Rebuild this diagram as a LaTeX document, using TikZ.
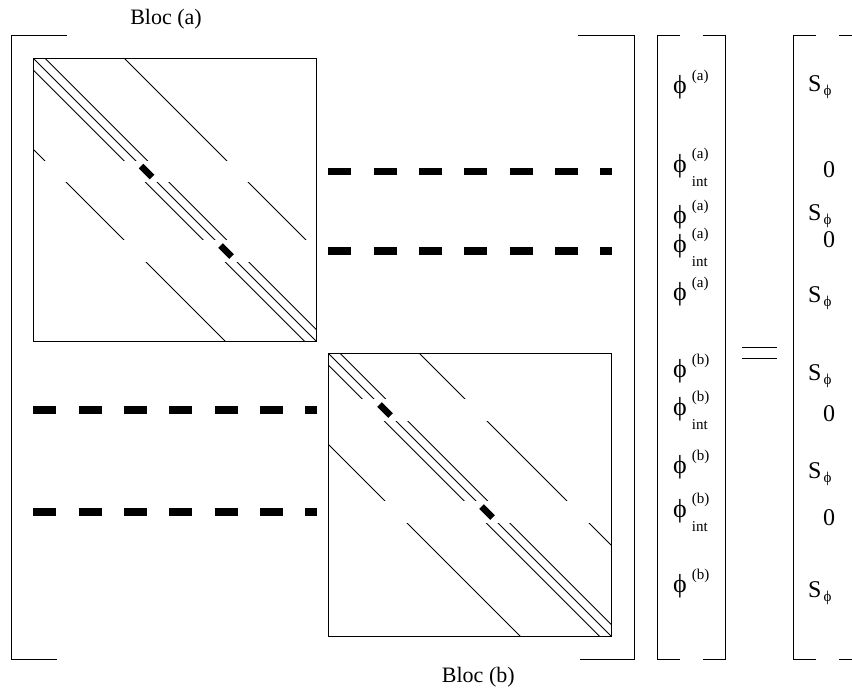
\documentclass[tikz,border=0pt]{standalone}
\usepackage{fontspec}
\setmainfont{Liberation Serif}
% script-size text used for superscripts and subscripts
\newcommand\scr{\fontsize{15}{17}\selectfont}
\newcommand\bigphi{{\fontsize{26}{28}\selectfont ϕ}}
\newcommand\phisup[1]{\bigphi\kern5pt\raisebox{13pt}{\scr(#1)}}
\newcommand\phiint[1]{\bigphi\kern5pt\rlap{\raisebox{14pt}{\scr(#1)}}\raisebox{-14pt}{\scr int}}
\newcommand\Sphi{S\kern2pt\raisebox{-4pt}{\fontsize{15}{15}\selectfont ϕ}}
% banded sparse block: two pivot rows split the bands into three row ranges
\newcommand\blockbands[2]{%
  \foreach \ra/\rb in {0/#1-11.3, #1+11.3/#2-11.3, #2+11.3/283.5} {
    \begin{scope}
      \clip (0,\ra) rectangle (283.5,\rb);
      \foreach \d in {-91,-11.7,0,11.7,91}
        \draw[band] (\d-10,-10) -- (\d+300,300);
    \end{scope}
  }
  \draw[pivot] (#1-5.5,#1-5.5) -- (#1+5.5,#1+5.5);
  \draw[pivot] (#2-5.5,#2-5.5) -- (#2+5.5,#2+5.5);
  \draw[frame] (0,0) rectangle (283.5,283.5);
}
\begin{document}
\begin{tikzpicture}[x=1pt,y=-1pt,
  frame/.style={line width=1pt},
  band/.style={line width=0.9pt},
  pivot/.style={line width=6.5pt},
  couple/.style={line width=7.3pt, dash pattern=on 23pt off 22.3pt},
  lbl/.style={anchor=base, inner sep=0pt, font=\fontsize{22}{26}\selectfont},
  num/.style={anchor=base, inner sep=0pt, font=\fontsize{24}{28}\selectfont},
  ent/.style={anchor=base west, inner sep=0pt, font=\fontsize{24}{28}\selectfont},
  ]
\useasboundingbox (0,0) rectangle (852,691);
\clip (0,0) rectangle (852,691);

% block (a) and block (b)
\begin{scope}[shift={(33.3,58.3)}]
  \blockbands{113.3}{192.7}
\end{scope}
\begin{scope}[shift={(328.3,353.3)}]
  \blockbands{56.7}{158.7}
\end{scope}

% coupling rows
\draw[couple] (328.3,171.6) -- (611.8,171.6);
\draw[couple] (328.3,251) -- (611.8,251);
\draw[couple] (33.3,410) -- (316.8,410);
\draw[couple] (33.3,512) -- (316.8,512);

% matrix brackets
\draw[frame] (66.7,35) -- (11.7,35) -- (11.7,659) -- (56.7,659);
\draw[frame] (578.3,35) -- (634.3,35) -- (634.3,659) -- (580,659);
% unknown vector brackets
\draw[frame] (680,35) -- (657.3,35) -- (657.3,659.3) -- (680,659.3);
\draw[frame] (702.7,35) -- (725.3,35) -- (725.3,659.3) -- (702.7,659.3);
% right-hand side brackets
\draw[frame] (816,35) -- (793.3,35) -- (793.3,659.3) -- (816,659.3);
\draw[frame] (839.3,35) -- (861.3,35) -- (861.3,659.3) -- (839.3,659.3);
% equals sign
\draw[frame] (742.3,347.3) -- (776.7,347.3);
\draw[frame] (742.3,358.3) -- (776.7,358.3);

% labels
\node[lbl] (bla) at (166,24) {Bloc (a)};
\node[lbl] (blb) at (478.3,682.5) {Bloc (b)};

% unknowns
\node[ent] (u1) at (673,93.6) {\phisup{a}};
\node[ent] (u2) at (673,172) {\phiint{a}};
\node[ent] (u3) at (673,223.6) {\phisup{a}};
\node[ent] (u4) at (673,252) {\phiint{a}};
\node[ent] (u5) at (673,300.3) {\phisup{a}};
\node[ent] (u6) at (673,377) {\phisup{b}};
\node[ent] (u7) at (673,415.3) {\phiint{b}};
\node[ent] (u8) at (673,473.6) {\phisup{b}};
\node[ent] (u9) at (673,517) {\phiint{b}};
\node[ent] (u10) at (673,592) {\phisup{b}};

% right-hand side
\node[ent] (r1) at (808,91) {\Sphi};
\node[num] (r2) at (829,177) {0};
\node[ent] (r3) at (808,220) {\Sphi};
\node[num] (r4) at (829,247.5) {0};
\node[ent] (r5) at (808,302) {\Sphi};
\node[ent] (r6) at (808,380) {\Sphi};
\node[num] (r7) at (829,421.7) {0};
\node[ent] (r8) at (808,478) {\Sphi};
\node[num] (r9) at (829,525) {0};
\node[ent] (r10) at (808,597) {\Sphi};
\end{tikzpicture}
\end{document}
